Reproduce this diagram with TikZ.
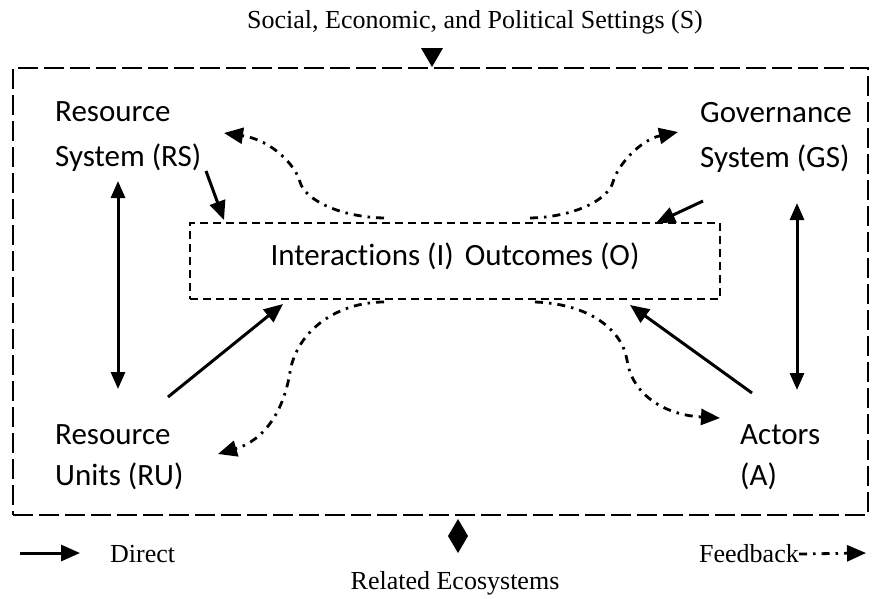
\documentclass[tikz,border=0pt]{standalone}
\usepackage{fontspec}
\setmainfont{Liberation Serif}
\newfontfamily\labelfont[Ligatures=NoCommon]{Carlito}
\usetikzlibrary{positioning,arrows.meta}

\begin{document}
\begin{tikzpicture}[x=1pt,y=-1pt,
  every node/.style={inner sep=0pt},
  lbl/.style={font=\labelfont\fontsize{31}{45}\selectfont,align=left,anchor=west},
  lbllow/.style={lbl,font=\labelfont\fontsize{31}{41}\selectfont},
  serif/.style={font=\fontsize{26}{30}\selectfont},
  frame/.style={draw,line width=2.8pt,dash pattern=on 20pt off 6pt},
  inbox/.style={draw,line width=2.8pt,dash pattern=on 8pt off 5pt},
  direct/.style={-{Triangle[length=19pt,width=16pt]},line width=3pt},
  both/.style={{Triangle[length=17pt,width=14pt]}-{Triangle[length=17pt,width=14pt]},line width=3pt},
  feed/.style={-{Triangle[length=19pt,width=16pt]},line width=2.8pt,dash pattern=on 8pt off 6pt on 2.5pt off 6pt}]
\useasboundingbox (0,0) rectangle (877,598);
% settings and frame
\node[serif] (sset) at (475,22) {Social, Economic, and Political Settings (S)};
\node[frame,minimum width=855pt,minimum height=447pt] (frame) at (440.5,291.5) {};
\fill (421,48) -- (443,48) -- (432,67) -- cycle;
% core box
\node[inbox,minimum width=530pt,minimum height=76pt,text height=19pt,text depth=11pt,
  font=\labelfont\fontsize{31}{36}\selectfont] (io) at (455,261)
  {Interactions (I)\hspace{11pt}Outcomes (O)};
% subsystems
\node[lbl] (rs) at (55,137) {Resource\\System (RS)};
\node[lbl] (gs) at (700,137) {Governance\\System (GS)};
\node[lbllow] (ru) at (55,457) {Resource\\Units (RU)};
\node[lbllow] (act) at (740,457) {Actors\\(A)};
% arrow ends
\coordinate (rsA) at (206,171);  \coordinate (ioA) at (224,220);
\coordinate (gsA) at (703,201);  \coordinate (ioB) at (656,223);
\coordinate (ruA) at (168,397);  \coordinate (ioC) at (283,304);
\coordinate (acA) at (752,393);  \coordinate (ioD) at (630,305);
\coordinate (rsB) at (118,181);  \coordinate (ruB) at (118,389);
\coordinate (gsB) at (797,203);  \coordinate (acB) at (797,390);
\foreach \a/\b in {rsA/ioA,gsA/ioB,ruA/ioC,acA/ioD}
  \draw[direct] (\a) -- (\b);
\draw[both] (rsB) -- (ruB);
\draw[both] (gsB) -- (acB);
% feedback loops
\coordinate (fb1) at (384,218);  \coordinate (rsF) at (224,133);
\coordinate (fb2) at (530,218);  \coordinate (gsF) at (678,132);
\coordinate (fb3) at (384,302);  \coordinate (ruF) at (218,454);
\coordinate (fb4) at (535,302);  \coordinate (acF) at (720,418);
\draw[feed] (fb1) .. controls (340,217) and (305,200) .. (300,182)
  .. controls (296,166) and (272,140) .. (rsF);
\draw[feed] (fb2) .. controls (574,217) and (608,200) .. (613,182)
  .. controls (617,166) and (640,140) .. (gsF);
\draw[feed] (fb3) .. controls (338,302) and (297,330) .. (290,372)
  .. controls (284,410) and (265,440) .. (ruF);
\draw[feed] (fb4) .. controls (590,304) and (622,330) .. (627,360)
  .. controls (632,395) and (665,415) .. (acF);
% related ecosystems
\fill (458,519) -- (468,536) -- (458,553) -- (448,536) -- cycle;
\node[serif] (rel) at (455,583) {Related Ecosystems};
% legend
\coordinate (d0) at (20,553);  \coordinate (d1) at (80,553);
\draw[direct] (d0) -- (d1);
\node[serif,anchor=west] (dir) at (110,554) {Direct};
\node[serif,anchor=east] (fbk) at (799,554) {Feedback};
\coordinate (f1) at (866,553);
\draw[feed] (fbk.east) -- (f1);
\end{tikzpicture}
\end{document}
